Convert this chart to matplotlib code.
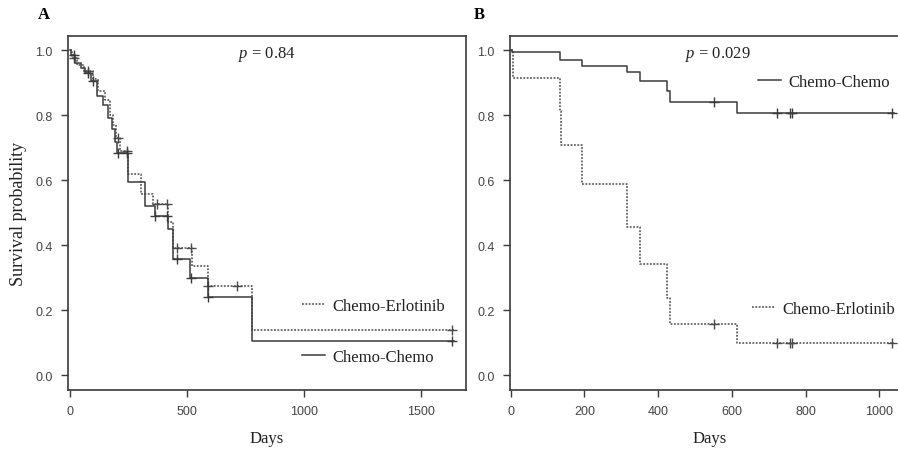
import numpy as np
import matplotlib
matplotlib.use("Agg")
import matplotlib.pyplot as plt
from matplotlib.lines import Line2D
from matplotlib.legend import Legend

# ── data ──────────────────────────────────────────────────────────────────────

# panel A: step times (days) and survival after each step
A_CC_TIMES = [0, 3, 20, 45, 64, 90, 114, 142, 164, 178, 192, 199, 247, 320, 363, 419, 442, 513, 588, 776]
A_CC_SURV  = [1.0, 0.985, 0.96, 0.945, 0.93, 0.905, 0.86, 0.83, 0.79, 0.757, 0.716, 0.685, 0.593, 0.52, 0.49, 0.45, 0.357, 0.300, 0.241, 0.106]
A_CC_CENS  = [17, 77, 100, 206, 242, 365, 413, 458, 516, 591, 1634]

A_CE_TIMES = [0, 8, 30, 60, 100, 120, 150, 170, 185, 198, 215, 250, 302, 356, 419, 442, 520, 591, 776]
A_CE_SURV  = [1.0, 0.975, 0.955, 0.935, 0.91, 0.875, 0.845, 0.80, 0.77, 0.73, 0.69, 0.618, 0.557, 0.526, 0.47, 0.393, 0.336, 0.275, 0.138]
A_CE_CENS  = [17, 77, 206, 242, 370, 413, 458, 516, 591, 715, 1634]

# panel B
B_CC_TIMES = [0, 3, 133, 192, 316, 352, 423, 432, 615]
B_CC_SURV  = [1.0, 0.993, 0.970, 0.952, 0.931, 0.906, 0.875, 0.839, 0.805]
B_CC_CENS  = [552, 723, 757, 762, 1036]

B_CE_TIMES = [0, 7, 133, 137, 192, 316, 352, 423, 432, 615]
B_CE_SURV  = [1.0, 0.914, 0.813, 0.709, 0.588, 0.457, 0.342, 0.237, 0.157, 0.100]
B_CE_CENS  = [552, 723, 757, 762, 1036]

P_TEXT = ["0.84", "0.029"]

# ── style ─────────────────────────────────────────────────────────────────────

SERIF = "Liberation Serif"
SANS = "Liberation Sans"
SOLID_C = "#3a3a3a"
DOT_C = "#4a4a4a"
SPINE_C = "#3a3a3a"

plt.rcParams["mathtext.fontset"] = "custom"
plt.rcParams["mathtext.it"] = "Liberation Serif:italic"
plt.rcParams["mathtext.rm"] = "Liberation Serif"


def km(ax, times, surv, cens, end, ls, color):
    t = list(times) + [end]
    s = list(surv) + [surv[-1]]
    ax.step(t, s, where="post", color=color, linestyle=ls, lw=1.1)
    idx = np.searchsorted(times, cens, side="right") - 1
    ax.plot(cens, np.array(surv)[idx], linestyle="none", marker="+",
            ms=6.5, mew=1.0, color=color)


def style(ax, xticks, xlim):
    ax.set_xlim(*xlim)
    ax.set_ylim(-0.045, 1.043)
    ax.set_xticks(xticks)
    ax.set_yticks([0.0, 0.2, 0.4, 0.6, 0.8, 1.0])
    ax.set_yticklabels(["0.0", "0.2", "0.4", "0.6", "0.8", "1.0"])
    for sp in ax.spines.values():
        sp.set_color(SPINE_C)
        sp.set_linewidth(1.2)
    ax.tick_params(direction="out", length=5, width=1.0, color=SPINE_C,
                   labelsize=9, labelcolor="#444444", pad=6)
    for lab in ax.get_xticklabels() + ax.get_yticklabels():
        lab.set_family(SANS)
    ax.set_xlabel("Days", fontfamily=SERIF, fontsize=12, labelpad=9, color="#222222")


def leg(ax, label, ls, color, x, y):
    h = Line2D([], [], color=color, linestyle=ls, lw=1.1)
    lg = Legend(ax, [h], [label], loc="center left",
                bbox_to_anchor=(x, y), frameon=False, borderpad=0,
                borderaxespad=0, handlelength=1.4, handletextpad=0.45,
                prop={"family": SERIF, "size": 12})
    for t in lg.get_texts():
        t.set_color("#222222")
    ax.add_artist(lg)


fig = plt.figure(figsize=(8.98, 4.52), dpi=100)
axA = fig.add_axes([0.0757, 0.135, 0.4432, 0.783])
axB = fig.add_axes([0.568, 0.135, 0.4439, 0.783])

DOT = (0, (1.2, 1.0))

# panel A
km(axA, A_CE_TIMES, A_CE_SURV, A_CE_CENS, 1640, DOT, DOT_C)
km(axA, A_CC_TIMES, A_CC_SURV, A_CC_CENS, 1640, "-", SOLID_C)
style(axA, [0, 500, 1000, 1500], (-8.5, 1692))
axA.set_ylabel("Survival probability", fontfamily=SERIF, fontsize=13,
               labelpad=6, color="#222222")
leg(axA, "Chemo-Erlotinib", DOT, DOT_C, 0.588, 0.237)
leg(axA, "Chemo-Chemo", "-", SOLID_C, 0.588, 0.093)
axA.text(0.50, 0.95, r"$p$ = " + P_TEXT[0], transform=axA.transAxes,
         ha="center", va="center", fontfamily=SERIF, fontsize=12, color="#222222")

# panel B
km(axB, B_CE_TIMES, B_CE_SURV, B_CE_CENS, 1040, DOT, DOT_C)
km(axB, B_CC_TIMES, B_CC_SURV, B_CC_CENS, 1040, "-", SOLID_C)
style(axB, [0, 200, 400, 600, 800, 1000], (-2, 1080))
leg(axB, "Chemo-Chemo", "-", SOLID_C, 0.622, 0.870)
leg(axB, "Chemo-Erlotinib", DOT, DOT_C, 0.607, 0.229)
axB.text(0.52, 0.95, r"$p$ = " + P_TEXT[1], transform=axB.transAxes,
         ha="center", va="center", fontfamily=SERIF, fontsize=12, color="#222222")

fig.text(38 / 898, 1 - 15 / 452, "A", fontfamily=SERIF, fontweight="bold",
         fontsize=12, ha="left", va="center")
fig.text(474 / 898, 1 - 15 / 452, "B", fontfamily=SERIF, fontweight="bold",
         fontsize=12, ha="left", va="center")

fig.savefig("out.png", dpi=100)
